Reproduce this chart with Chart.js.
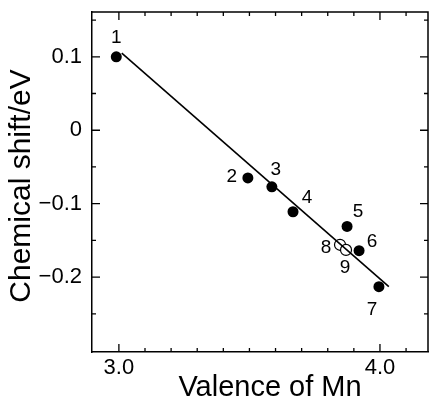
<!DOCTYPE html>
<html>
<head>
<meta charset="utf-8">
<script src="https://cdn.jsdelivr.net/npm/chart.js@4/dist/chart.umd.min.js"></script>
<style>
  html, body { margin: 0; padding: 0; background: #fff; }
</style>
</head>
<body>
<canvas id="shiftChart" width="430" height="401"></canvas>
<script>
// measured samples (filled), numbered 1-7
const valence = [2.99, 3.494, 3.586, 3.667, 3.874, 3.92, 3.996];
const shift = [0.1, -0.065, -0.077, -0.111, -0.131, -0.164, -0.213];
const sampleIds = ['1', '2', '3', '4', '5', '6', '7'];

// open circles 8, 9
const openValence = [3.847, 3.87];
const openShift = [-0.156, -0.163];
const openIds = ['8', '9'];

// fitted line end points
const fitValence = [3.011, 4.034];
const fitShift = [0.105, -0.213];

const xMajor = [3.0, 4.0];
const xMinor = [3.1, 3.2, 3.3, 3.4, 3.5, 3.6, 3.7, 3.8, 3.9, 4.1];
const yMajor = [-0.2, -0.1, 0, 0.1];
const yMinor = [-0.25, -0.15, -0.05, 0.05, 0.15];

// where each number sits relative to its point (px)
const labelOffsets = {
  '1': [0, -19], '2': [-16, -1], '3': [4, -17], '4': [14, -14], '5': [11, -15],
  '6': [13, -9], '7': [-7, 23], '8': [-14, 3], '9': [-1, 18]
};

const FONT = '"Liberation Sans", Arial, Helvetica, sans-serif';

const toXY = (xs, ys) => xs.map((x, i) => ({ x: x, y: ys[i] }));

const framePlugin = {
  id: 'frame',
  afterDraw(chart) {
    const { ctx, chartArea: a, scales: { x, y } } = chart;
    ctx.save();
    ctx.strokeStyle = '#000';
    ctx.lineWidth = 1.5;
    ctx.beginPath();
    ctx.moveTo(a.left, a.top);
    ctx.lineTo(a.right, a.top);
    ctx.lineTo(a.right, a.bottom);
    ctx.stroke();

    // inward ticks on all four sides
    ctx.lineWidth = 1.3;
    const xt = (v, len) => {
      const px = x.getPixelForValue(v);
      ctx.moveTo(px, a.bottom); ctx.lineTo(px, a.bottom - len);
      ctx.moveTo(px, a.top); ctx.lineTo(px, a.top + len);
    };
    const yt = (v, len) => {
      const py = y.getPixelForValue(v);
      ctx.moveTo(a.left, py); ctx.lineTo(a.left + len, py);
      ctx.moveTo(a.right, py); ctx.lineTo(a.right - len, py);
    };
    ctx.beginPath();
    xMajor.forEach(v => xt(v, 8));
    xMinor.forEach(v => xt(v, 4));
    yMajor.forEach(v => yt(v, 8));
    yMinor.forEach(v => yt(v, 4));
    ctx.stroke();

    // point numbers
    ctx.fillStyle = '#000';
    ctx.font = '19px ' + FONT;
    ctx.textAlign = 'center';
    ctx.textBaseline = 'middle';
    const label = (xs, ys, ids) => ids.forEach((id, i) => {
      const off = labelOffsets[id];
      ctx.fillText(id, x.getPixelForValue(xs[i]) + off[0], y.getPixelForValue(ys[i]) + off[1]);
    });
    label(valence, shift, sampleIds);
    label(openValence, openShift, openIds);

    // axis titles
    ctx.font = '29px ' + FONT;
    ctx.fillText('Valence of Mn', 270, 388);
    ctx.font = '30px ' + FONT;
    ctx.translate(22, 186);
    ctx.rotate(-Math.PI / 2);
    ctx.fillText('Chemical shift/eV', 0, 0);
    ctx.restore();
  }
};

new Chart(document.getElementById('shiftChart'), {
  type: 'scatter',
  data: {
    datasets: [
      {
        data: toXY(fitValence, fitShift),
        showLine: true,
        borderColor: '#000',
        borderWidth: 1.6,
        pointRadius: 0
      },
      {
        data: toXY(valence, shift),
        pointRadius: 5.5,
        backgroundColor: '#000',
        borderColor: '#000',
        borderWidth: 0
      },
      {
        data: toXY(openValence, openShift),
        pointRadius: 5.5,
        backgroundColor: '#fff',
        borderColor: '#000',
        borderWidth: 1.2
      }
    ]
  },
  options: {
    responsive: false,
    animation: false,
    layout: { autoPadding: false, padding: { top: 12, right: 2, left: 0, bottom: 0 } },
    plugins: { legend: { display: false }, tooltip: { enabled: false } },
    scales: {
      x: {
        type: 'linear',
        min: 2.897,
        max: 4.184,
        grid: { display: false, drawTicks: false },
        border: { display: true, color: '#000', width: 1.5 },
        ticks: {
          color: '#000',
          font: { family: FONT, size: 22 },
          padding: 3,
          maxRotation: 0,
          callback: v => v.toFixed(1)
        },
        afterBuildTicks: s => { s.ticks = xMajor.map(v => ({ value: v })); },
        afterFit: s => { s.height = 49; s.paddingLeft = 0; s.paddingRight = 0; }
      },
      y: {
        type: 'linear',
        min: -0.302,
        max: 0.161,
        grid: { display: false, drawTicks: false },
        border: { display: true, color: '#000', width: 1.5 },
        ticks: {
          color: '#000',
          font: { family: FONT, size: 22 },
          padding: 10,
          callback: v => v === 0 ? '0' : (v < 0 ? '\u2212' + Math.abs(v).toFixed(1) : v.toFixed(1))
        },
        afterBuildTicks: s => { s.ticks = yMajor.map(v => ({ value: v })); },
        afterFit: s => { s.width = 92; s.paddingTop = 0; s.paddingBottom = 0; }
      }
    }
  },
  plugins: [framePlugin]
});
</script>
</body>
</html>
